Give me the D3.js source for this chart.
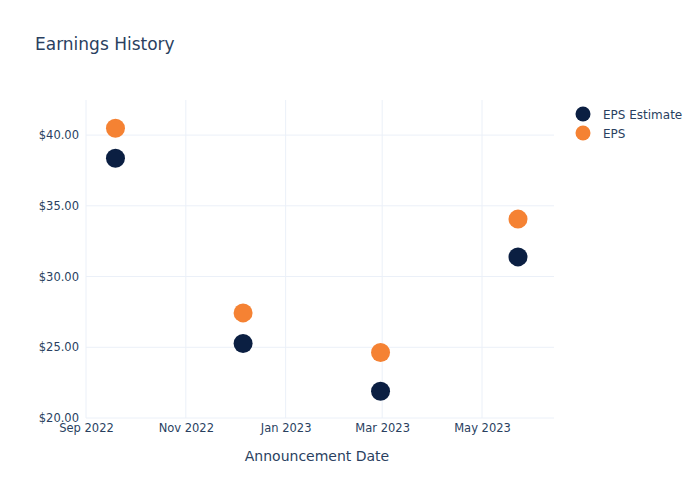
<!DOCTYPE html>
<html>
<head>
<meta charset="utf-8">
<script src="https://cdn.jsdelivr.net/npm/d3@7"></script>
<style>
  html, body { margin: 0; padding: 0; background: #fff; }
  svg { display: block; font-family: "DejaVu Sans", Verdana, sans-serif; }
</style>
</head>
<body>
<svg id="chart" width="700" height="500"></svg>
<script>
// ---- data ----
const dates = ["2022-09-19", "2022-12-06", "2023-02-28", "2023-05-23"];
const epsEstimate = [38.36, 25.27, 21.89, 31.39];
const eps = [40.48, 27.43, 24.63, 34.06];
const seriesNames = ["EPS Estimate", "EPS"];
const seriesColors = ["#0b1f42", "#f58233"];
const yTicks = [20, 25, 30, 35, 40];
const xTickDates = ["2022-09-01", "2022-11-01", "2023-01-01", "2023-03-01", "2023-05-01"];
const xDomain = ["2022-09-01", "2023-06-14"];
const yDomain = [20, 42.48];

// ---- layout ----
const svg = d3.select("#chart");
const margin = { left: 86, right: 146, top: 100, bottom: 82 };
const W = 700, H = 500;
const parse = d3.timeParse("%Y-%m-%d");

const x = d3.scaleTime()
  .domain(xDomain.map(parse))
  .range([margin.left, W - margin.right]);
const y = d3.scaleLinear()
  .domain(yDomain)
  .range([H - margin.bottom, margin.top]);

const textColor = "#2a3f5f";
const gridColor = "#ebf0f8";

// grid
const g = svg.append("g");
g.selectAll("line.vg").data(xTickDates.map(parse)).enter().append("line")
  .attr("x1", d => x(d)).attr("x2", d => x(d))
  .attr("y1", margin.top).attr("y2", H - margin.bottom)
  .attr("stroke", gridColor).attr("stroke-width", 1);
g.selectAll("line.hg").data(yTicks).enter().append("line")
  .attr("x1", margin.left).attr("x2", W - margin.right)
  .attr("y1", d => y(d)).attr("y2", d => y(d))
  .attr("stroke", gridColor).attr("stroke-width", 1);

// axes
const fmtMoney = d => "$" + d3.format(".2f")(d);
const yAxis = d3.axisLeft(y).tickValues(yTicks).tickFormat(fmtMoney).tickSize(0).tickPadding(7);
const yG = svg.append("g").attr("transform", `translate(${margin.left},0)`).call(yAxis);
yG.select(".domain").remove();
yG.selectAll("text").attr("fill", textColor).style("font-size", "11.5px")
  .style("font-family", '"DejaVu Sans", Verdana, sans-serif');

const xAxis = d3.axisBottom(x).tickValues(xTickDates.map(parse))
  .tickFormat(d3.timeFormat("%b %Y")).tickSize(0).tickPadding(6);
const xG = svg.append("g").attr("transform", `translate(0,${H - margin.bottom})`).call(xAxis);
xG.select(".domain").remove();
xG.selectAll("text").attr("fill", textColor).style("font-size", "11.5px")
  .style("font-family", '"DejaVu Sans", Verdana, sans-serif');

// axis title
svg.append("text")
  .attr("x", 317)
  .attr("y", 461)
  .attr("text-anchor", "middle")
  .attr("fill", textColor)
  .style("font-size", "14px")
  .text("Announcement Date");

// title
svg.append("text")
  .attr("x", 35).attr("y", 50)
  .attr("fill", textColor)
  .style("font-size", "17px")
  .text("Earnings History");

// points
const series = [epsEstimate, eps];
series.forEach((vals, si) => {
  svg.append("g").selectAll("circle")
    .data(vals.map((v, i) => ({ d: parse(dates[i]), v })))
    .enter().append("circle")
    .attr("cx", d => x(d.d))
    .attr("cy", d => y(d.v))
    .attr("r", 9.5)
    .attr("fill", seriesColors[si]);
});

// legend
const leg = svg.append("g").attr("transform", "translate(583,114)");
seriesNames.forEach((name, i) => {
  const row = leg.append("g").attr("transform", `translate(0,${i * 19})`);
  row.append("circle").attr("r", 7.5).attr("fill", seriesColors[i]);
  row.append("text").attr("x", 20).attr("y", 4.5)
    .attr("fill", textColor).style("font-size", "12px").text(name);
});
</script>
</body>
</html>
